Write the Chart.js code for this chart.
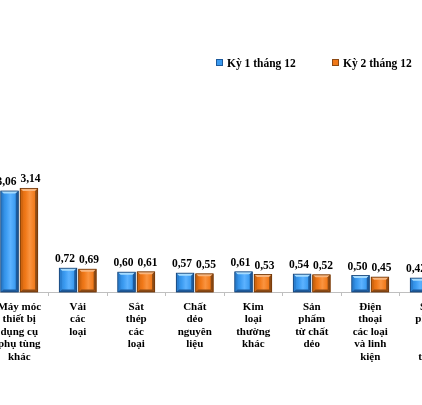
<!DOCTYPE html>
<html>
<head>
<meta charset="utf-8">
<script src="https://cdn.jsdelivr.net/npm/chart.js@4/dist/chart.umd.min.js"></script>
<style>
  html, body { margin: 0; padding: 0; background: #fff; overflow: hidden; }
  body { width: 422px; height: 405px; position: relative; }
  #wrap { position: absolute; left: -10px; top: 0; width: 480px; height: 405px; }
  .legend { position: absolute; top: 57px; font: bold 11.5px "Liberation Serif", serif; color: #000; white-space: nowrap; }
  .legend i { display: inline-block; width: 5px; height: 5px; margin-right: 4px; vertical-align: 1px; }
</style>
</head>
<body>
<div id="wrap"><canvas id="chart"></canvas></div>
<div class="legend" style="left:216px"><i style="background:#3a9af0;border:0.5px solid #1d5a9c"></i>Kỳ 1 tháng 12</div>
<div class="legend" style="left:332px"><i style="background:#f07818;border:0.5px solid #8c4a14"></i>Kỳ 2 tháng 12</div>
<script>
// Categories (multi-line labels as drawn under the axis)
const categories = [
  ["Máy móc", "thiết bị", "dụng cụ", "phụ tùng", "khác"],
  ["Vải", "các", "loại"],
  ["Sắt", "thép", "các", "loại"],
  ["Chất", "dẻo", "nguyên", "liệu"],
  ["Kim", "loại", "thường", "khác"],
  ["Sản", "phẩm", "từ chất", "dẻo"],
  ["Điện", "thoại", "các loại", "và linh", "kiện"],
  ["Sản", "phẩm", "từ", "sắt", "thép"],
];

const seriesNames = ["Kỳ 1 tháng 12", "Kỳ 2 tháng 12"];
const ky1 = [3.06, 0.72, 0.60, 0.57, 0.61, 0.54, 0.50, 0.42];
const ky2 = [3.14, 0.69, 0.61, 0.55, 0.53, 0.52, 0.45, 0.40];

const TONES = [
  { main: "#3a9af0", light: "#5cb2ff", top: "#a6dcff", side: "#2a7fd0", dark: "#1d5a9c", edge: "#163f70" },
  { main: "#f07818", light: "#fa9440", top: "#f9b67e", side: "#d0650f", dark: "#8c4a14", edge: "#6a3408" },
];
// value labels sit slightly apart so neighbours don't collide
const LABEL_SHIFT = [-3, 1.5];

const fmt = (v) => v.toFixed(2).replace(".", ",");

// Draws the bevelled "3D" look on each bar plus the value label above it.
const barStyle = {
  id: "barStyle",
  afterDatasetsDraw(chart) {
    const ctx = chart.ctx;
    chart.data.datasets.forEach((ds, di) => {
      const meta = chart.getDatasetMeta(di);
      const t = TONES[di];
      meta.data.forEach((bar, i) => {
        const { x, y, base, width } = bar.getProps(["x", "y", "base", "width"], true);
        const l = x - width / 2, r = x + width / 2, h = base - y;
        const b = Math.min(2.5, h / 4);
        ctx.save();
        const g = ctx.createLinearGradient(l, 0, r, 0);
        g.addColorStop(0, t.side);
        g.addColorStop(0.3, t.main);
        g.addColorStop(0.55, t.light);
        g.addColorStop(0.85, t.main);
        g.addColorStop(1, t.side);
        ctx.fillStyle = g;
        ctx.fillRect(l, y, width, h);
        const poly = (pts, c) => {
          ctx.beginPath();
          ctx.moveTo(pts[0][0], pts[0][1]);
          pts.slice(1).forEach((p) => ctx.lineTo(p[0], p[1]));
          ctx.closePath();
          ctx.fillStyle = c;
          ctx.fill();
        };
        poly([[l, y], [r, y], [r - b, y + b], [l + b, y + b]], t.top);
        poly([[l, base], [r, base], [r - b, base - b], [l + b, base - b]], t.dark);
        poly([[l, y], [l + b, y + b], [l + b, base - b], [l, base]], t.side);
        poly([[r, y], [r - b, y + b], [r - b, base - b], [r, base]], t.dark);
        ctx.strokeStyle = t.edge;
        ctx.lineWidth = 0.8;
        ctx.strokeRect(l, y, width, h);
        ctx.fillStyle = "#000";
        ctx.font = 'bold 11.5px "Liberation Serif", serif';
        ctx.textAlign = "center";
        ctx.textBaseline = "alphabetic";
        ctx.fillText(fmt(ds.data[i]), x + LABEL_SHIFT[di], y - 6);
        ctx.restore();
      });
    });
  },
};

new Chart(document.getElementById("chart"), {
  type: "bar",
  data: {
    labels: categories,
    datasets: [
      { label: seriesNames[0], data: ky1, backgroundColor: TONES[0].main },
      { label: seriesNames[1], data: ky2, backgroundColor: TONES[1].main },
    ],
  },
  options: {
    responsive: true,
    maintainAspectRatio: false,
    animation: false,
    categoryPercentage: 0.663,
    barPercentage: 0.9,
    layout: { padding: { top: 160, right: 12, left: 0, bottom: 0 } },
    plugins: { legend: { display: false }, tooltip: { enabled: false } },
    scales: {
      x: {
        offset: true,
        border: { display: true, color: "#bfbfbf", width: 1 },
        grid: { display: true, drawOnChartArea: false, drawTicks: true, tickLength: 4, color: "#bfbfbf", offset: true },
        ticks: {
          color: "#000",
          font: { family: '"Liberation Serif", serif', size: 11, weight: "bold", lineHeight: 1.13 },
          padding: 5,
          maxRotation: 0,
          autoSkip: false,
        },
        afterFit(scale) { scale.height = 113; },
      },
      y: { display: false, min: 0, max: 4 },
    },
  },
  plugins: [barStyle],
});
</script>
</body>
</html>
